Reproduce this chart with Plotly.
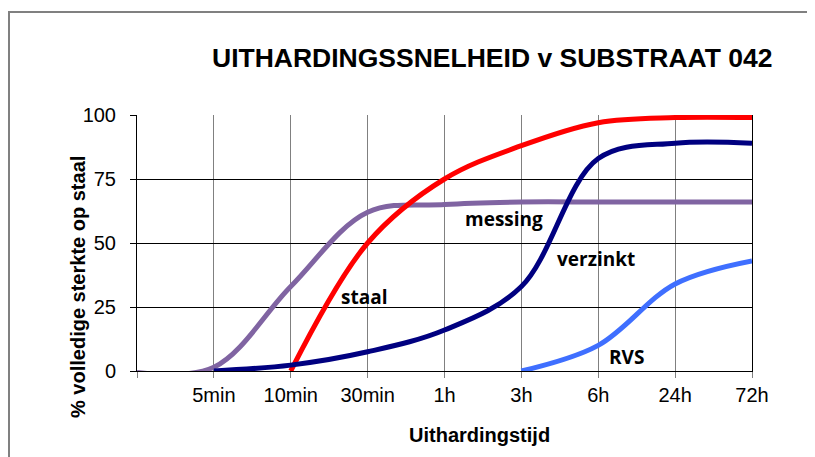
import plotly.graph_objects as go

categories = ["", "5min", "10min", "30min", "1h", "3h", "6h", "24h", "72h"]
x_idx = list(range(len(categories)))

messing = [-0.6, 1.5, 33, 62, 65, 66, 66, 66, 66]
staal = [None, None, 0, 50, 75, 88, 97, 99, 99]
verzinkt = [None, 0, 2.3, 7.5, 16, 33, 83, 89, 89]
rvs = [None, None, None, None, None, 0, 10, 34, 43]

y_ticks = [0, 25, 50, 75, 100]

OFF = 8  # page body margin offset
W, H = 815 - OFF, 457 - OFF
L, R, T, B = 137, 752, 115, 371  # plot area in screenshot coordinates

def px(xp):
    return (xp - L) / (R - L)

def py(yp):
    return (B - yp) / (B - T)

fig = go.Figure()
series = [
    ("messing", messing, "#8064A2"),
    ("staal", staal, "#FF0000"),
    ("verzinkt", verzinkt, "#000080"),
    ("RVS", rvs, "#3F6FFF"),
]
for name, vals, col in series:
    fig.add_trace(go.Scatter(
        x=x_idx, y=vals, mode="lines", name=name,
        line=dict(color=col, width=5, shape="spline", smoothing=1),
        connectgaps=False, showlegend=False, hoverinfo="skip",
    ))

labels = [
    ("staal", 364, 297),
    ("messing", 504, 219),
    ("verzinkt", 596, 259),
    ("RVS", 626, 357),
]
for txt, xp, yp in labels:
    fig.add_annotation(x=px(xp), y=py(yp), xref="paper", yref="paper",
                       text=txt, showarrow=False, xanchor="center", yanchor="middle",
                       font=dict(family="Open Sans", size=19, color="black", weight="bold"))

fig.add_annotation(x=px(492), y=py(58), xref="paper", yref="paper",
                   text="<b>UITHARDINGSSNELHEID v SUBSTRAAT 042</b>", showarrow=False,
                   xanchor="center", yanchor="middle",
                   font=dict(family="Liberation Sans, Arial", size=26.5, color="black"))
fig.add_annotation(x=px(479), y=py(435), xref="paper", yref="paper",
                   text="<b>Uithardingstijd</b>", showarrow=False,
                   xanchor="center", yanchor="middle",
                   font=dict(family="Liberation Sans, Arial", size=20, color="black"))
fig.add_annotation(x=px(78), y=py(287), xref="paper", yref="paper",
                   text="<b>% volledige sterkte op staal</b>", showarrow=False,
                   textangle=-90, xanchor="center", yanchor="middle",
                   font=dict(family="Liberation Sans, Arial", size=20, color="black"))

# outer frame
fig.add_shape(type="rect", xref="paper", yref="paper",
              x0=px(9), x1=px(813), y0=py(470), y1=py(12),
              line=dict(color="#808080", width=2), fillcolor="rgba(0,0,0,0)", layer="below")

fig.update_layout(
    width=W, height=H,
    margin=dict(l=L - OFF, r=W - (R - OFF), t=T - OFF, b=H - (B - OFF), pad=0),
    paper_bgcolor="white", plot_bgcolor="white",
    font=dict(family="Liberation Sans, Arial", size=20, color="black"),
    xaxis=dict(
        range=[0, 8], tickmode="array", tickvals=x_idx, ticktext=categories,
        showgrid=True, gridcolor="#808080", gridwidth=1,
        showline=True, linecolor="black", linewidth=1,
        ticks="outside", ticklen=6, tickcolor="#808080", tickwidth=1,
        zeroline=False, tickfont=dict(size=20, color="black"),
        fixedrange=True,
    ),
    yaxis=dict(
        range=[0, 100], tickmode="array", tickvals=y_ticks,
        ticktext=[str(v) for v in y_ticks],
        showgrid=True, gridcolor="black", gridwidth=1,
        showline=True, linecolor="black", linewidth=1, mirror=True,
        ticks="outside", ticklen=6, tickcolor="black", tickwidth=1,
        zeroline=False, tickfont=dict(size=20, color="black"),
        ticklabelstandoff=10, fixedrange=True,
    ),
)

fig.write_html("out.html")
